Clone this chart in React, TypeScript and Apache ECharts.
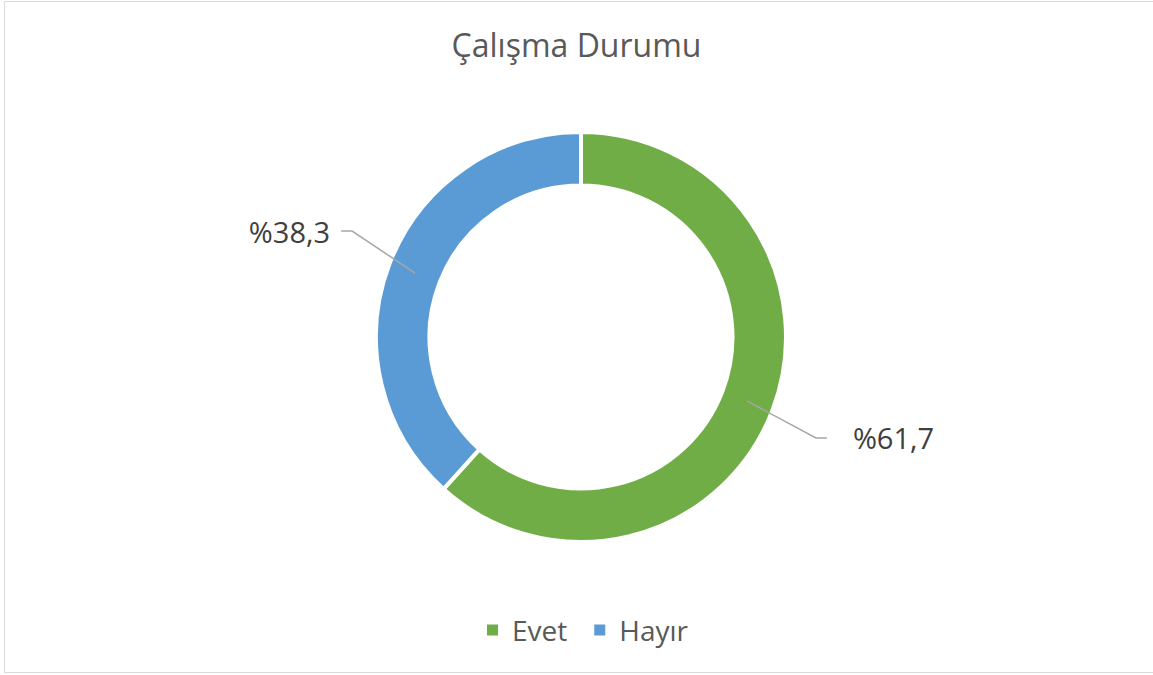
import React, { useEffect, useRef } from "react";
import * as echarts from "echarts";

const titleText = "Çalışma Durumu";
const categories = ["Evet", "Hayır"];
const values = [61.7, 38.3];
const colors = ["#70AD47", "#5B9BD5"];

const FONT = "'Open Sans', 'Noto Sans', sans-serif";

export default function App() {
  const ref = useRef<HTMLDivElement>(null);
  useEffect(() => {
    if (!ref.current) return;
    const chart = echarts.init(ref.current, undefined, { renderer: "svg" });
    const data = categories.map((name, i) => ({
      name,
      value: values[i],
      itemStyle: { color: colors[i] },
    }));
    const fmt = (p: any) => "%" + Number(p.value).toFixed(1).replace(".", ",");
    // leader-line bend offsets (Excel style steeper leader lines)
    const bendShift = [
      [-4, 9],
      [10, -14],
    ];
    const labelShift = [
      [0, 9],
      [10, -14],
    ];
    chart.setOption({
      animation: false,
      backgroundColor: "#ffffff",
      title: {
        text: titleText,
        left: "center",
        top: 23,
        textStyle: { fontFamily: FONT, fontSize: 32, fontWeight: "normal", color: "#595959" },
      },
      legend: {
        data: categories,
        top: 611,
        left: 480,
        icon: "rect",
        itemWidth: 13,
        itemHeight: 13,
        itemGap: 25,
        textStyle: { fontFamily: FONT, fontSize: 28, color: "#595959", padding: [0, 0, 0, 8] },
      },
      graphic: [
        {
          type: "rect",
          shape: { x: 4.5, y: 1.5, width: 1150, height: 671 },
          style: { fill: "none", stroke: "#d9d9d9", lineWidth: 1 },
          silent: true,
        },
      ],
      series: [
        {
          type: "pie",
          name: "ring",
          center: [581, 337],
          radius: [151.5, 205],
          startAngle: 90,
          clockwise: true,
          silent: true,
          label: { show: false },
          labelLine: { show: false },
          itemStyle: { borderColor: "#ffffff", borderWidth: 4 },
          data,
        },
        {
          type: "pie",
          name: "labels",
          center: [581, 337],
          radius: [0, 178],
          startAngle: 90,
          clockwise: true,
          silent: true,
          z: 5,
          avoidLabelOverlap: false,
          itemStyle: { color: "rgba(0,0,0,0)" },
          label: {
            show: true,
            position: "outside",
            formatter: fmt,
            fontFamily: FONT,
            fontSize: 29,
            color: "#404040",
            distanceToLabelLine: 12,
          },
          labelLine: {
            show: true,
            length: 78,
            length2: 11,
            lineStyle: { color: "#a6a6a6", width: 1.5 },
          },
          labelLayout: (p: any) => {
            if (!p.labelLinePoints) return {};
            const i = p.dataIndex;
            const pts = p.labelLinePoints.map((a: number[]) => [a[0], a[1]]);
            const s = bendShift[i];
            pts[1][0] += s[0];
            pts[1][1] += s[1];
            pts[2][0] += s[0];
            pts[2][1] += s[1];
            return { labelLinePoints: pts, dx: labelShift[i][0], dy: labelShift[i][1] };
          },
          data: categories.map((name, i) => ({
            name,
            value: values[i],
            label: i === 0 ? { distanceToLabelLine: 22 } : { distanceToLabelLine: 11 },
          })),
        },
      ],
    });
    return () => chart.dispose();
  }, []);
  return (
    <div
      ref={ref}
      style={{ position: "absolute", left: 0, top: 0, width: 1153, height: 675 }}
    />
  );
}
